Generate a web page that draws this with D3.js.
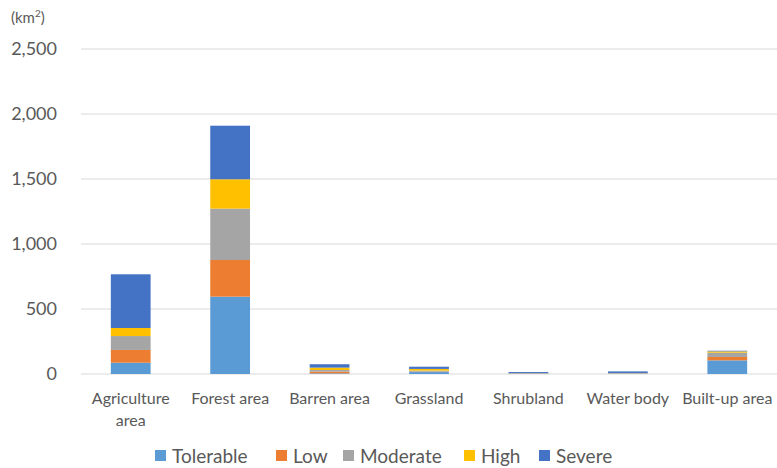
<!DOCTYPE html>
<html>
<head>
<meta charset="utf-8">
<script src="https://cdn.jsdelivr.net/npm/d3@7"></script>
<style>
  body { margin: 0; background: #fff; }
  text { font-family: Lato, "Open Sans", sans-serif; fill: #595959; }
</style>
</head>
<body>
<div id="chart"></div>
<script>
// land-cover categories along the x axis
var categories = ["Agriculture area", "Forest area", "Barren area", "Grassland", "Shrubland", "Water body", "Built-up area"];
var levels = ["Tolerable", "Low", "Moderate", "High", "Severe"];
var colors = ["#5B9BD5", "#ED7D31", "#A5A5A5", "#FFC000", "#4472C4"];

// values per level (km2)
var tolerable = [87, 595, 5, 15, 3, 3, 105];
var low       = [98, 282, 13, 3, 1, 1, 26];
var moderate  = [107, 395, 13, 8, 2, 3, 33];
var high      = [62, 226, 18, 13, 1, 1, 10];
var severe    = [413, 412, 26, 17, 8, 12, 5];

var yTicks = [0, 500, 1000, 1500, 2000, 2500];

var svgWidth = 777, svgHeight = 468;
var margin = { top: 49, right: 0, bottom: 94, left: 81 };
var width = svgWidth - margin.left - margin.right;
var height = svgHeight - margin.top - margin.bottom;

var svg = d3.select("#chart").append("svg")
  .attr("width", svgWidth)
  .attr("height", svgHeight);

var chartGroup = svg.append("g")
  .attr("transform", `translate(${margin.left}, ${margin.top})`);

// build table for the stack
var table = categories.map(function(c, i) {
  return { cat: c, Tolerable: tolerable[i], Low: low[i], Moderate: moderate[i], High: high[i], Severe: severe[i] };
});
var stacked = d3.stack().keys(levels)(table);

var x = d3.scaleBand().domain(categories).range([0, width]).paddingInner(0.6).paddingOuter(0.3);
var y = d3.scaleLinear().domain([0, 2500]).range([height, 0]);

// gridlines
chartGroup.append("g")
  .selectAll("line")
  .data(yTicks)
  .enter().append("line")
  .attr("x1", 0).attr("x2", width)
  .attr("y1", d => y(d)).attr("y2", d => y(d))
  .attr("stroke", "#d9d9d9")
  .attr("stroke-width", 1);

// y axis labels
var leftAxis = d3.axisLeft(y).tickValues(yTicks).tickFormat(d3.format(",")).tickSize(0).tickPadding(24);
var yAxis = chartGroup.append("g").call(leftAxis);
yAxis.select(".domain").remove();
yAxis.selectAll("text").style("font-size", "18px").attr("fill", "#595959");

// bars
chartGroup.selectAll(".layer")
  .data(stacked)
  .enter().append("g")
  .attr("class", "layer")
  .attr("fill", (d, i) => colors[i])
  .selectAll("rect")
  .data(d => d)
  .enter().append("rect")
  .attr("x", d => x(d.data.cat))
  .attr("width", x.bandwidth())
  .attr("y", d => y(d[1]))
  .attr("height", d => y(d[0]) - y(d[1]));

// x axis labels (wrapped like the original)
var xLabels = {
  "Agriculture area": ["Agriculture", "area"]
};
var xl = chartGroup.append("g").attr("transform", `translate(0, ${height})`);
categories.forEach(function(c) {
  var lines = xLabels[c] || [c];
  var t = xl.append("text")
    .attr("x", x(c) + x.bandwidth() / 2)
    .attr("y", 30)
    .attr("text-anchor", "middle")
    .style("font-size", "16px");
  lines.forEach(function(s, i) {
    t.append("tspan").attr("x", x(c) + x.bandwidth() / 2).attr("dy", i === 0 ? 0 : 22).text(s);
  });
});

// unit label
var unit = svg.append("text").attr("x", 11).attr("y", 23).style("font-size", "15px");
unit.append("tspan").text("(km");
unit.append("tspan").attr("dy", -6).style("font-size", "10px").text("2");
unit.append("tspan").attr("dy", 6).text(")");

// legend
var legendX = [155, 276, 343, 464, 539];
var legend = svg.append("g").attr("transform", "translate(0, 456)");
levels.forEach(function(l, i) {
  var g = legend.append("g").attr("transform", `translate(${legendX[i]}, 0)`);
  g.append("rect").attr("x", 0).attr("y", -6).attr("width", 11).attr("height", 11).attr("fill", colors[i]);
  g.append("text").attr("x", 17).attr("y", 0).attr("dy", "0.35em").style("font-size", "19px").text(l);
});
</script>
</body>
</html>
